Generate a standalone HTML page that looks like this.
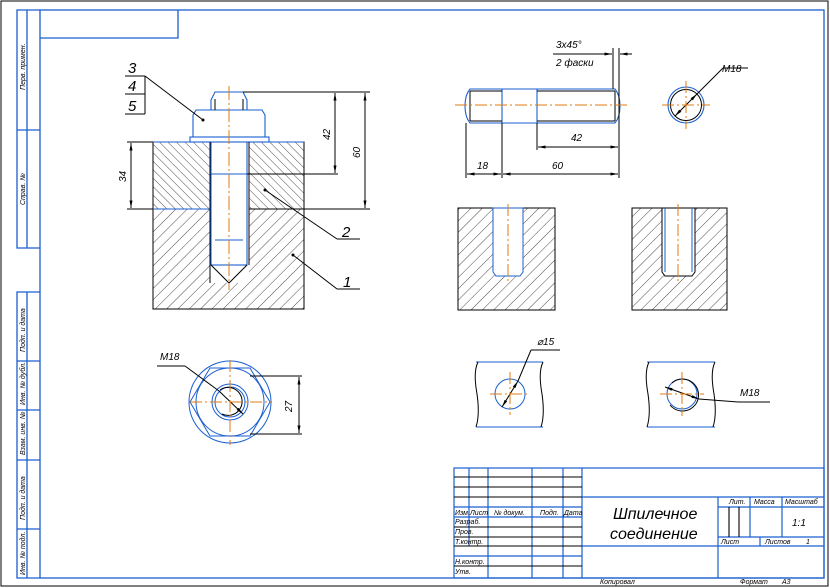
<!DOCTYPE html>
<html><head><meta charset="utf-8"><style>
html,body{margin:0;padding:0;background:#fff}
svg{display:block}
text{font-family:"Liberation Sans",sans-serif;font-style:italic;fill:#000}
</style></head><body>
<svg width="830" height="588" viewBox="0 0 830 588" xmlns="http://www.w3.org/2000/svg">
<defs>
<pattern id="h1" width="8" height="8" patternUnits="userSpaceOnUse" patternTransform="rotate(45)"><line x1="0" y1="0" x2="0" y2="8" stroke="#000" stroke-width="0.7"/></pattern>
<pattern id="h2" width="6" height="6" patternUnits="userSpaceOnUse" patternTransform="rotate(-45)"><line x1="0" y1="0" x2="0" y2="6" stroke="#000" stroke-width="0.7"/></pattern>
<marker id="a" viewBox="0 0 10 4" refX="10" refY="2" markerWidth="8" markerHeight="3" orient="auto-start-reverse"><path d="M0,0L10,2L0,4z" fill="#000"/></marker>
</defs>
<rect x="1" y="1" width="827" height="585" fill="none" stroke="#000"/>
<g stroke="#1a5fd0" fill="none" stroke-width="1.3">
<rect x="40" y="10" width="784" height="568"/>
<polyline points="40,38 178,38 178,10"/>
<polyline points="40,10 17,10 17,248 40,248"/>
<line x1="27" y1="10" x2="27" y2="248"/><line x1="17" y1="130" x2="40" y2="130"/>
<polyline points="40,292 17,292 17,578 40,578"/>
<line x1="27" y1="292" x2="27" y2="578"/>
<line x1="17" y1="361" x2="40" y2="361"/><line x1="17" y1="410" x2="40" y2="410"/><line x1="17" y1="460" x2="40" y2="460"/><line x1="17" y1="529" x2="40" y2="529"/>
</g>
<g font-size="7">
<text transform="translate(25,90) rotate(-90)">Перв. примен.</text>
<text transform="translate(25,205) rotate(-90)">Справ. №</text>
<text transform="translate(25,352) rotate(-90)">Подп. и дата</text>
<text transform="translate(25,405) rotate(-90)">Инв. № дубл.</text>
<text transform="translate(25,455) rotate(-90)">Взам. инв. №</text>
<text transform="translate(25,520) rotate(-90)">Подп. и дата</text>
<text transform="translate(25,575) rotate(-90)">Инв. № подл.</text>
</g>

<!-- assembly -->
<rect x="153" y="142" width="151" height="67" fill="url(#h2)" stroke="#000"/>
<rect x="153" y="209" width="151" height="100" fill="url(#h1)" stroke="#000"/>
<rect x="210" y="142" width="39" height="141" fill="#fff"/>
<g stroke="#1a5fd0" fill="none" stroke-width="1.1">
<line x1="153" y1="142" x2="304" y2="142"/><line x1="153" y1="209" x2="210" y2="209"/>
<rect x="211" y="110" width="36" height="155" fill="#fff"/>
<path d="M215,92 H243 L247,100 V110 H211 V100 Z" fill="#fff"/>
<path d="M196,110 H262 L265,115 V137 H193 V115 Z" fill="#fff"/>
<rect x="190" y="137" width="79" height="5" fill="#fff"/>
<line x1="215" y1="240" x2="243" y2="240"/>
<line x1="211" y1="174" x2="247" y2="174"/>
</g>
<g stroke="#000" fill="none" stroke-width="1">
<line x1="210" y1="142" x2="210" y2="283"/><line x1="249" y1="142" x2="249" y2="265"/>
<polyline points="211,265 229,283 247,265"/>
<line x1="215" y1="99" x2="215" y2="110"/><line x1="243" y1="99" x2="243" y2="110"/>
<line x1="243" y1="92" x2="370" y2="92"/><line x1="247" y1="174" x2="338" y2="174"/>
<line x1="304" y1="209" x2="370" y2="209"/><line x1="127" y1="142" x2="153" y2="142"/><line x1="127" y1="209" x2="153" y2="209"/>
<line x1="335" y1="93" x2="335" y2="173" marker-start="url(#a)" marker-end="url(#a)"/>
<line x1="365" y1="93" x2="365" y2="208" marker-start="url(#a)" marker-end="url(#a)"/>
<line x1="131" y1="143" x2="131" y2="208" marker-start="url(#a)" marker-end="url(#a)"/>
<line x1="125" y1="76" x2="145" y2="76"/><line x1="125" y1="94" x2="145" y2="94"/><line x1="125" y1="114" x2="145" y2="114"/><line x1="145" y1="76" x2="145" y2="114"/>
<line x1="145" y1="76" x2="203" y2="120"/>
<line x1="265" y1="190" x2="337" y2="239"/><line x1="337" y1="239" x2="360" y2="239"/>
<line x1="293" y1="255" x2="337" y2="289"/><line x1="337" y1="289" x2="360" y2="289"/>
</g>
<circle cx="203" cy="120" r="1.5"/><circle cx="265" cy="190" r="1.5"/><circle cx="293" cy="255" r="1.5"/>
<line x1="229" y1="86" x2="229" y2="290" stroke="#e07a10" stroke-dasharray="14,3,2,3"/>
<g font-size="15"><text x="128" y="73">3</text><text x="128" y="91">4</text><text x="128" y="111">5</text><text x="342" y="237">2</text><text x="343" y="287">1</text></g>
<g font-size="10"><text transform="translate(330,140) rotate(-90)">42</text><text transform="translate(360,158) rotate(-90)">60</text><text transform="translate(126,182) rotate(-90)">34</text></g>

<!-- stud -->
<g stroke="#1a5fd0" fill="none" stroke-width="1.1">
<path d="M470,89 H615 Q620,95 620,106 Q620,117 615,123 H470 Q465,117 465,106 Q465,95 470,89 Z"/>
<line x1="502" y1="89" x2="502" y2="123"/><line x1="537" y1="89" x2="537" y2="123"/>
<circle cx="686" cy="105" r="18"/>
</g>
<g stroke="#000" fill="none" stroke-width="1">
<line x1="470" y1="91" x2="502" y2="91"/><line x1="470" y1="121" x2="502" y2="121"/>
<line x1="537" y1="91" x2="615" y2="91"/><line x1="537" y1="121" x2="615" y2="121"/>
<line x1="470" y1="91" x2="470" y2="121"/><line x1="615" y1="91" x2="615" y2="121"/>
<line x1="466" y1="123" x2="466" y2="178"/><line x1="502" y1="123" x2="502" y2="178"/><line x1="537" y1="123" x2="537" y2="150"/><line x1="619" y1="48" x2="619" y2="178"/><line x1="613" y1="48" x2="613" y2="89"/>
<line x1="538" y1="147" x2="618" y2="147" marker-start="url(#a)" marker-end="url(#a)"/>
<line x1="467" y1="174" x2="501" y2="174" marker-start="url(#a)" marker-end="url(#a)"/>
<line x1="503" y1="174" x2="618" y2="174" marker-start="url(#a)" marker-end="url(#a)"/>
<line x1="553" y1="54" x2="612" y2="54" marker-end="url(#a)"/><line x1="632" y1="54" x2="620" y2="54" marker-end="url(#a)"/>
<circle cx="686" cy="105" r="15.5"/>
<line x1="675" y1="116" x2="697" y2="94" marker-start="url(#a)" marker-end="url(#a)"/>
<line x1="697" y1="94" x2="723" y2="68"/><line x1="723" y1="68" x2="748" y2="68"/>
</g>
<g stroke="#e07a10" stroke-dasharray="12,3,2,3"><line x1="455" y1="105" x2="628" y2="105"/><line x1="662" y1="105" x2="710" y2="105"/><line x1="686" y1="81" x2="686" y2="129"/></g>
<g font-size="10"><text x="556" y="48">3x45°</text><text x="556" y="66">2 фаски</text><text x="571" y="141">42</text><text x="477" y="169">18</text><text x="552" y="169">60</text><text x="722" y="72">M18</text></g>

<!-- sections -->
<rect x="458" y="208" width="97" height="102" fill="url(#h1)" stroke="#000"/>
<path d="M493,208 V272 L496,276 H520 L523,272 V208 Z" fill="#fff" stroke="#1a5fd0"/>
<line x1="508" y1="204" x2="508" y2="282" stroke="#e07a10" stroke-dasharray="12,3,2,3"/>
<rect x="632" y="208" width="95" height="102" fill="url(#h1)" stroke="#000"/>
<path d="M662,208 V272 L665,276 H692 L695,272 V208 Z" fill="#fff" stroke="#000"/>
<path d="M665,208 V272 M692,208 V272" stroke="#1a5fd0" fill="none"/>
<line x1="678" y1="204" x2="678" y2="282" stroke="#e07a10" stroke-dasharray="12,3,2,3"/>

<!-- nut view -->
<g stroke="#1a5fd0" fill="none" stroke-width="1">
<circle cx="230" cy="402" r="41"/><circle cx="230" cy="402" r="34"/>
<polygon points="210,368 250,368 270,402 250,436 210,436 190,402"/>
<circle cx="230" cy="402" r="18"/><circle cx="230" cy="402" r="15"/>
<line x1="476" y1="362" x2="543" y2="362"/><line x1="476" y1="427" x2="543" y2="427"/>
<circle cx="510" cy="394" r="15"/>
<line x1="647" y1="362" x2="715" y2="362"/><line x1="647" y1="427" x2="715" y2="427"/>
<circle cx="682" cy="394" r="15"/>
</g>
<g stroke="#000" fill="none" stroke-width="1">
<path d="M220,390 A14,14 0 1 1 222,414"/>
<line x1="157" y1="366" x2="185" y2="366"/><line x1="185" y1="366" x2="219" y2="391"/>
<line x1="219" y1="391" x2="243" y2="414" marker-end="url(#a)"/>
<line x1="250" y1="376" x2="302" y2="376"/><line x1="250" y1="434" x2="302" y2="434"/>
<line x1="299" y1="377" x2="299" y2="433" marker-start="url(#a)" marker-end="url(#a)"/>
<path d="M478,362 Q473,372 477,394 Q480,415 476,427"/><path d="M543,362 Q538,372 542,394 Q545,415 541,427"/>
<line x1="502" y1="407" x2="518" y2="381" marker-start="url(#a)" marker-end="url(#a)"/>
<line x1="518" y1="381" x2="531" y2="350"/><line x1="531" y1="350" x2="560" y2="350"/>
<path d="M649,362 Q644,372 648,394 Q651,415 647,427"/><path d="M715,362 Q710,372 714,394 Q717,415 713,427"/>
<path d="M672,383 A16,16 0 1 1 670,405"/>
<line x1="665" y1="387" x2="699" y2="399" marker-start="url(#a)" marker-end="url(#a)"/>
<line x1="699" y1="399" x2="738" y2="402"/><line x1="738" y1="402" x2="770" y2="402"/>
</g>
<g stroke="#e07a10" stroke-dasharray="12,3,2,3">
<line x1="190" y1="402" x2="272" y2="402"/><line x1="230" y1="360" x2="230" y2="445"/>
<line x1="490" y1="394" x2="530" y2="394"/><line x1="510" y1="372" x2="510" y2="415"/>
<line x1="660" y1="394" x2="704" y2="394"/><line x1="682" y1="372" x2="682" y2="416"/>
</g>
<g font-size="10"><text x="160" y="360">M18</text><text transform="translate(292,412) rotate(-90)">27</text><text x="537" y="345">⌀15</text><text x="740" y="396">M18</text></g>

<!-- title block -->
<g stroke="#1a5fd0" fill="none" stroke-width="1.2">
<rect x="454" y="468" width="370" height="110"/>
<line x1="582" y1="468" x2="582" y2="578"/>
<line x1="469" y1="468" x2="469" y2="546"/><line x1="488" y1="468" x2="488" y2="578"/><line x1="532" y1="468" x2="532" y2="578"/><line x1="563" y1="468" x2="563" y2="578"/>
<line x1="582" y1="497" x2="824" y2="497"/><line x1="582" y1="546" x2="718" y2="546"/>
<line x1="718" y1="497" x2="718" y2="578"/><line x1="718" y1="507" x2="824" y2="507"/><line x1="718" y1="537" x2="824" y2="537"/><line x1="718" y1="546" x2="824" y2="546"/>
<line x1="750" y1="497" x2="750" y2="537"/><line x1="782" y1="497" x2="782" y2="537"/><line x1="760" y1="537" x2="760" y2="546"/>
<line x1="454" y1="507" x2="582" y2="507"/><line x1="454" y1="517" x2="582" y2="517"/><line x1="454" y1="556" x2="582" y2="556"/>
</g>
<g stroke="#000" stroke-width="1.1">
<line x1="454" y1="477" x2="582" y2="477"/><line x1="454" y1="487" x2="582" y2="487"/><line x1="454" y1="497" x2="582" y2="497"/>
<line x1="454" y1="527" x2="582" y2="527"/><line x1="454" y1="537" x2="582" y2="537"/><line x1="454" y1="546" x2="582" y2="546"/><line x1="454" y1="566" x2="582" y2="566"/>
<line x1="729" y1="507" x2="729" y2="537"/><line x1="739" y1="507" x2="739" y2="537"/>
</g>
<g font-size="7">
<text x="455" y="515">Изм.</text><text x="470" y="515">Лист</text><text x="494" y="515">№ докум.</text><text x="540" y="515">Подп.</text><text x="564" y="515">Дата</text>
<text x="455" y="524">Разраб.</text><text x="455" y="534">Пров.</text><text x="455" y="544">Т.контр.</text><text x="455" y="564">Н.контр.</text><text x="455" y="574">Утв.</text>
<text x="729" y="504">Лит.</text><text x="754" y="504">Масса</text><text x="785" y="504">Масштаб</text>
<text x="721" y="544">Лист</text><text x="765" y="544">Листов</text><text x="806" y="544">1</text>
<text x="600" y="584">Копировал</text><text x="740" y="584">Формат</text><text x="782" y="584">А3</text>
</g>
<text x="792" y="526" font-size="10">1:1</text>
<g font-size="16"><text x="613" y="519">Шпилечное</text><text x="610" y="539">соединение</text></g>
</svg>
</body></html>
